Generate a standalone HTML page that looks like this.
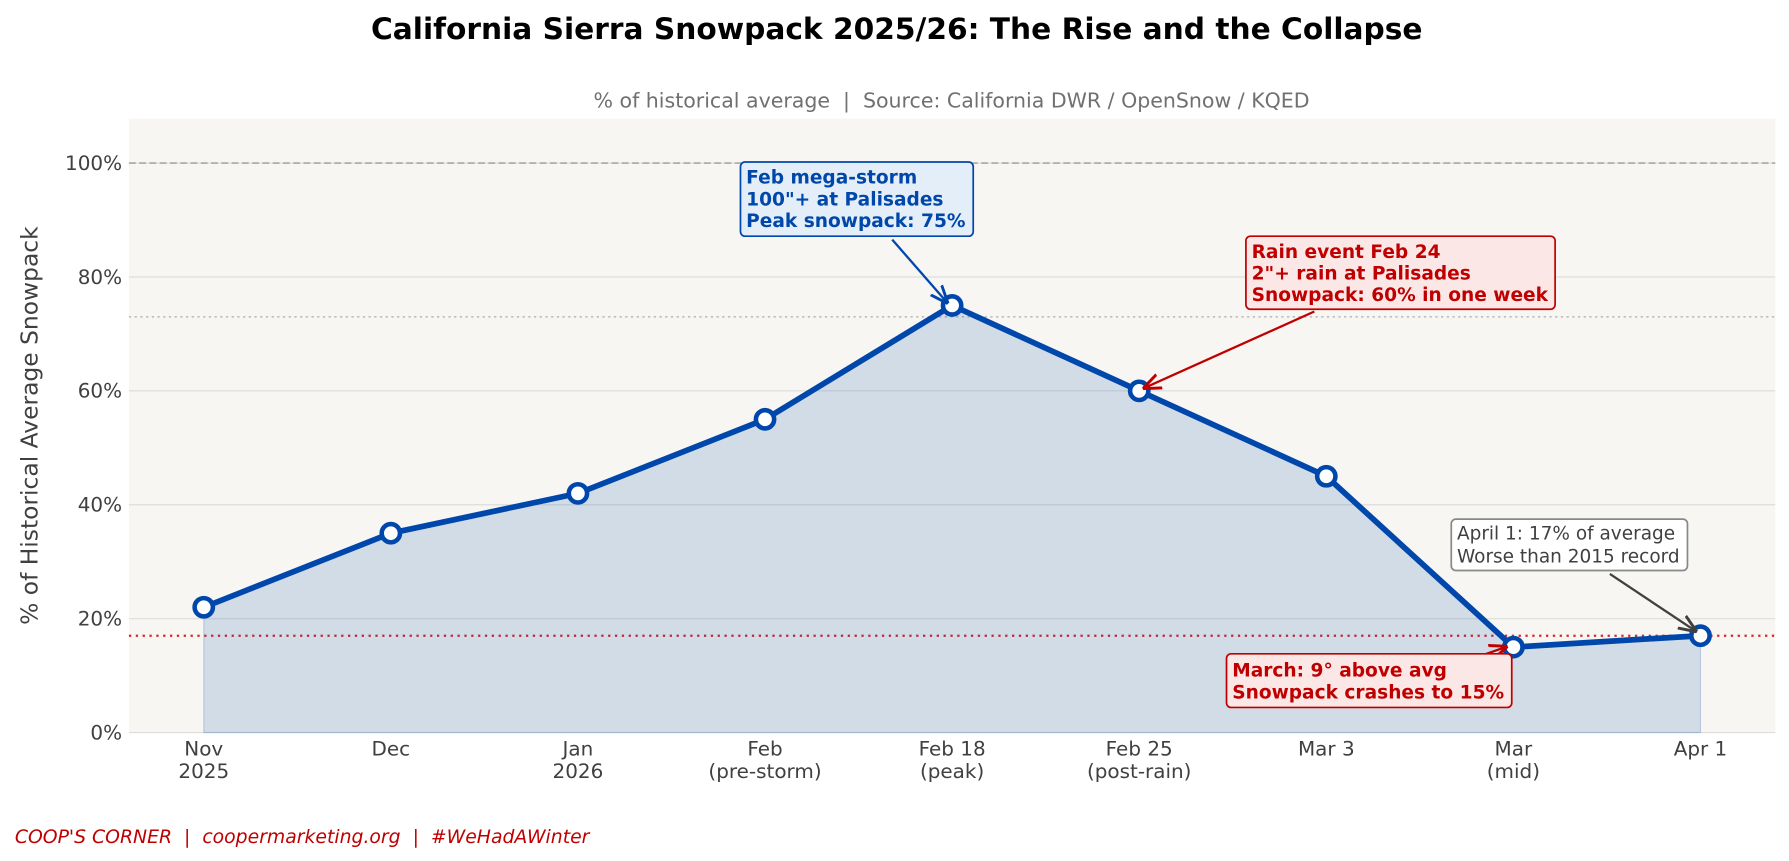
<!DOCTYPE html>
<html><head><meta charset="utf-8"><style>
html,body{margin:0;padding:0;background:#fff;}
svg{display:block;font-family:"DejaVu Sans","Liberation Sans",sans-serif;}
</style></head><body>
<svg id="chart" width="1789" height="861" viewBox="0 0 1568 754.6" preserveAspectRatio="none" xmlns="http://www.w3.org/2000/svg">
<defs>
<marker id="ab" viewBox="0 0 10 10" refX="9" refY="5" markerWidth="8" markerHeight="8" orient="auto-start-reverse"><path d="M0,1 L10,5 L0,9" fill="none" stroke="#0047ab" stroke-width="1.6"/></marker>
<marker id="ar" viewBox="0 0 10 10" refX="9" refY="5" markerWidth="8" markerHeight="8" orient="auto-start-reverse"><path d="M0,1 L10,5 L0,9" fill="none" stroke="#c00000" stroke-width="1.6"/></marker>
<marker id="ag" viewBox="0 0 10 10" refX="9" refY="5" markerWidth="8" markerHeight="8" orient="auto-start-reverse"><path d="M0,1 L10,5 L0,9" fill="none" stroke="#404040" stroke-width="1.6"/></marker>
</defs>
<text x="786" y="34" text-anchor="middle" font-size="26" font-weight="bold" fill="#000">California Sierra Snowpack 2025/26: The Rise and the Collapse</text>
<text x="834" y="94" text-anchor="middle" font-size="18" fill="#707070" xml:space="preserve">% of historical average  |  Source: California DWR / OpenSnow / KQED</text>
<rect x="113" y="104" width="1443" height="538" fill="#f7f6f3"/>
<g id="grid"></g>
<g id="marks"></g>
<g id="axes"></g>
<text transform="translate(33,373) rotate(-90)" text-anchor="middle" font-size="20.5" fill="#404040">% of Historical Average Snowpack</text>

<g>
<line x1="782" y1="210" x2="830" y2="265" stroke="#0047ab" stroke-width="2" marker-end="url(#ab)"/>
<rect x="649" y="142" width="204" height="65" rx="4" fill="#e4eef8" stroke="#0047ab" stroke-width="1.5"/>
<text font-size="16.3" font-weight="bold" fill="#0047ab"><tspan x="654" y="161">Feb mega-storm</tspan><tspan x="654" y="180">100"+ at Palisades</tspan><tspan x="654" y="199">Peak snowpack: 75%</tspan></text>
</g>
<g>
<line x1="1152" y1="273" x2="1003" y2="340" stroke="#c00000" stroke-width="2" marker-end="url(#ar)"/>
<rect x="1092" y="207" width="271" height="64" rx="4" fill="#fbe8e6" stroke="#c00000" stroke-width="1.5"/>
<text font-size="16.3" font-weight="bold" fill="#c00000"><tspan x="1097" y="226">Rain event Feb 24</tspan><tspan x="1097" y="245">2"+ rain at Palisades</tspan><tspan x="1097" y="264">Snowpack: 60% in one week</tspan></text>
</g>
<g>
<line x1="1411" y1="503" x2="1486" y2="553" stroke="#404040" stroke-width="2" marker-end="url(#ag)"/>
<rect x="1272" y="455" width="207" height="45" rx="4" fill="#fff" stroke="#888" stroke-width="1.5"/>
<text font-size="16.2" fill="#404040"><tspan x="1277" y="473">April 1: 17% of average</tspan><tspan x="1277" y="493">Worse than 2015 record</tspan></text>
</g>
<g>
<line x1="1300" y1="574" x2="1320" y2="567" stroke="#c00000" stroke-width="2" marker-end="url(#ar)"/>
<rect x="1075" y="573" width="250" height="47" rx="4" fill="#fbe8e6" stroke="#c00000" stroke-width="1.5"/>
<text font-size="16.3" font-weight="bold" fill="#c00000"><tspan x="1080" y="593">March: 9° above avg</tspan><tspan x="1080" y="612">Snowpack crashes to 15%</tspan></text>
</g>
<text x="13" y="739" font-size="16.5" font-style="italic" fill="#c00000" xml:space="preserve">COOP'S CORNER  |  coopermarketing.org  |  #WeHadAWinter</text>
</svg>
<script>
const categories = ["Nov|2025","Dec","Jan|2026","Feb|(pre-storm)","Feb 18|(peak)","Feb 25|(post-rain)","Mar 3","Mar|(mid)","Apr 1"];
const snowpack = [22,35,42,55,75,60,45,15,17];
const yTicks = [0,20,40,60,80,100];
const yTickLabels = ["0%","20%","40%","60%","80%","100%"];
const refAverage = 100;
const refPeakLine = 73;
const refApril = 17;

const NS="http://www.w3.org/2000/svg";
const X0=113,X1=1556,Y0=642,Y1=104,XMIN=-0.4,XMAX=8.4,YMIN=0,YMAX=107.8;
const xs=i=>X0+(i-XMIN)/(XMAX-XMIN)*(X1-X0);
const ys=v=>Y0-(v-YMIN)/(YMAX-YMIN)*(Y0-Y1);
function mk(tag,attrs,parent){const e=document.createElementNS(NS,tag);for(const k in attrs)e.setAttribute(k,attrs[k]);parent.appendChild(e);return e;}
const grid=document.getElementById('grid'),marks=document.getElementById('marks'),axes=document.getElementById('axes');
yTicks.forEach((t,i)=>{
  const l=mk('line',{x1:X0,x2:X1,y1:ys(t),y2:ys(t),stroke:'#dcdcdc','stroke-width':1},grid);
  
  
  const tx=mk('text',{x:107,y:ys(t)+6,'text-anchor':'end','font-size':17.5,fill:'#404040'},axes);
  tx.textContent=yTickLabels[i];
  
  
});
const r1=mk('line',{x1:X0,x2:X1,y1:ys(refAverage),y2:ys(refAverage),stroke:'#a8a8a8','stroke-width':1.5,'stroke-dasharray':'6,3'},grid);


const r2=mk('line',{x1:X0,x2:X1,y1:ys(refPeakLine),y2:ys(refPeakLine),stroke:'#bdbdbd','stroke-width':1.5,'stroke-dasharray':'2,3'},grid);


const r3=mk('line',{x1:X0,x2:X1,y1:ys(refApril),y2:ys(refApril),stroke:'#d62728','stroke-width':2,'stroke-dasharray':'2,4'},grid);



let pts=snowpack.map((v,i)=>xs(i)+','+ys(v));
const area=mk('polygon',{points:xs(0)+','+Y0+' '+pts.join(' ')+' '+xs(snowpack.length-1)+','+Y0,fill:'#0047ab','fill-opacity':0.15,stroke:'#0047ab','stroke-opacity':0.2},marks);


const line=mk('polyline',{points:pts.join(' '),fill:'none',stroke:'#0047ab','stroke-width':5,'stroke-linejoin':'round'},marks);


snowpack.forEach((v,i)=>{
  const c=mk('circle',{cx:xs(i),cy:ys(v),r:8,fill:'#fff',stroke:'#0047ab','stroke-width':4},marks);
  
  
});
categories.forEach((c,i)=>{
  const parts=c.split('|');
  const tx=mk('text',{x:xs(i),y:662,'text-anchor':'middle','font-size':17.5,fill:'#404040'},axes);
  parts.forEach((p,j)=>{const s=mk('tspan',{x:xs(i),dy:j?20:0},tx);s.textContent=p;});
  
  
});
</script>
</body></html>
